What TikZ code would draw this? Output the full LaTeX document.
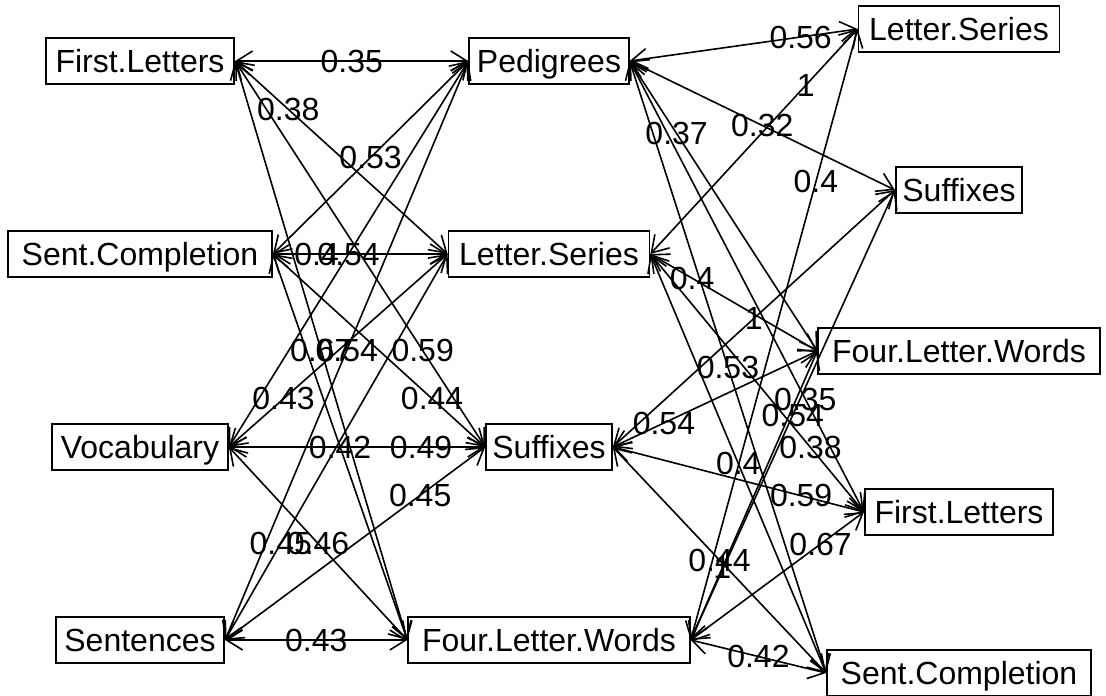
\documentclass[tikz,border=0pt]{standalone}
\usepackage{fontspec}
\setmainfont{Liberation Sans}
\usetikzlibrary{arrows.meta}
\tikzset{
  var/.style={
    draw,
    line width=0.9pt,
    minimum height=23.2pt,
    text height=11.5pt,
    text depth=0pt,
    inner sep=0pt
  },
  cor/.style={
    line width=0.8pt,
    arrows={Straight Barb[length=8pt,width=10pt]-Straight Barb[length=8pt,width=10pt]}
  },
  lab/.style={
    inner sep=0pt
  },
  every picture/.style = {
    x=0.5pt, y=-0.5pt,
    font=\fontsize{16}{19}\selectfont
  }
}

\begin{document}
\begin{tikzpicture}
  \useasboundingbox (0,0) rectangle (1106,695);
  % left column
  \node[var, minimum width=94.2pt]  (FL1) at (140,61)  {First.Letters};
  \node[var, minimum width=132pt]   (SC1) at (140,254) {Sent.Completion};
  \node[var, minimum width=88pt]    (V1)  at (140,447) {Vocabulary};
  \node[var, minimum width=84.2pt]  (S1)  at (140,640) {Sentences};
  % middle column
  \node[var, minimum width=79.8pt]  (P2)   at (549,61)  {Pedigrees};
  \node[var, minimum width=100.5pt] (LS2)  at (549,254) {Letter.Series};
  \node[var, minimum width=62.9pt]  (SU2)  at (549,447) {Suffixes};
  \node[var, minimum width=140.8pt] (FLW2) at (549,640) {Four.Letter.Words};
  % right column
  \node[var, minimum width=100.5pt] (LS3)  at (959,29)  {Letter.Series};
  \node[var, minimum width=63.2pt]  (SU3)  at (959,190) {Suffixes};
  \node[var, minimum width=140.8pt] (FLW3) at (959,351) {Four.Letter.Words};
  \node[var, minimum width=94.2pt]  (FL3)  at (959,512) {First.Letters};
  \node[var, minimum width=132pt]   (SC3)  at (959,673) {Sent.Completion};

  % left to middle
  \draw[cor] (FL1.east) -- node[lab, pos=.5]  (l1)  {0.35} (P2.west);
  \draw[cor] (FL1.east) -- node[lab, pos=.25] (l2)  {0.38} (LS2.west);
  \draw[cor] (FL1.east) -- node[lab, pos=.75] (l3)  {0.59} (SU2.west);
  \draw[cor] (FL1.east) -- node[lab, pos=.5]  (l4)  {0.67} (FLW2.west);
  \draw[cor] (SC1.east) -- node[lab, pos=.5]  (l5)  {0.53} (P2.west);
  \draw[cor] (SC1.east) -- node[lab, pos=.25] (l6)  {0.4}  (LS2.west);
  \draw[cor] (SC1.east) -- node[lab, pos=.75] (l7)  {0.44} (SU2.west);
  \draw[cor] (SC1.east) -- node[lab, pos=.5]  (l8)  {0.42} (FLW2.west);
  \draw[cor] (V1.east)  -- node[lab, pos=.5]  (l9)  {0.54} (P2.west);
  \draw[cor] (V1.east)  -- node[lab, pos=.25] (l10) {0.43} (LS2.west);
  \draw[cor] (V1.east)  -- node[lab, pos=.75] (l11) {0.49} (SU2.west);
  \draw[cor] (V1.east)  -- node[lab, pos=.5]  (l12) {0.46} (FLW2.west);
  \draw[cor] (S1.east)  -- node[lab, pos=.5]  (l13) {0.54} (P2.west);
  \draw[cor] (S1.east)  -- node[lab, pos=.25] (l14) {0.45} (LS2.west);
  \draw[cor] (S1.east)  -- node[lab, pos=.75] (l15) {0.45} (SU2.west);
  \draw[cor] (S1.east)  -- node[lab, pos=.5]  (l16) {0.43} (FLW2.west);

  % middle to right
  \draw[cor] (P2.east)   -- node[lab, pos=.75] (r1)  {0.56} (LS3.west);
  \draw[cor] (P2.east)   -- node[lab, pos=.5]  (r2)  {0.32} (SU3.west);
  \draw[cor] (P2.east)   -- node[lab, pos=.25] (r3)  {0.37} (FLW3.west);
  \draw[cor] (P2.east)   -- node[lab, pos=.75] (r4)  {0.35} (FL3.west);
  \draw[cor] (P2.east)   -- node[lab, pos=.5]  (r5)  {0.53} (SC3.west);
  \draw[cor] (LS2.east)  -- node[lab, pos=.75] (r6)  {1}    (LS3.west);
  \draw[cor] (LS2.east)  -- node[lab, pos=.25] (r7)  {0.4}  (FLW3.west);
  \draw[cor] (LS2.east)  -- node[lab, pos=.75] (r8)  {0.38} (FL3.west);
  \draw[cor] (LS2.east)  -- node[lab, pos=.5]  (r9)  {0.4}  (SC3.west);
  \draw[cor] (SU2.east)  -- node[lab, pos=.5]  (r10) {1}    (SU3.west);
  \draw[cor] (SU2.east)  -- node[lab, pos=.25] (r11) {0.54} (FLW3.west);
  \draw[cor] (SU2.east)  -- node[lab, pos=.75] (r12) {0.59} (FL3.west);
  \draw[cor] (SU2.east)  -- node[lab, pos=.5]  (r13) {0.44} (SC3.west);
  \draw[cor] (FLW2.east) -- node[lab, pos=.75] (r14) {0.4}  (LS3.west);
  \draw[cor] (FLW2.east) -- node[lab, pos=.5]  (r15) {0.54} (SU3.west);
  \draw[cor] (FLW2.east) -- node[lab, pos=.25] (r16) {1}    (FLW3.west);
  \draw[cor] (FLW2.east) -- node[lab, pos=.75] (r17) {0.67} (FL3.west);
  \draw[cor] (FLW2.east) -- node[lab, pos=.5]  (r18) {0.42} (SC3.west);
\end{tikzpicture}
\end{document}
